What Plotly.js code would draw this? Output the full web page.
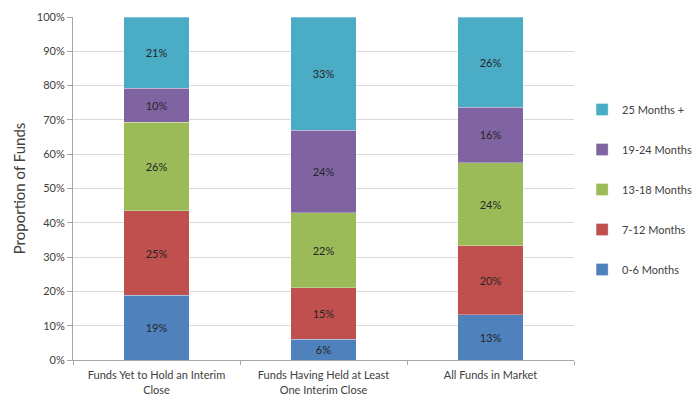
<!DOCTYPE html>
<html>
<head>
<meta charset="utf-8">
<script src="https://cdn.plot.ly/plotly-3.0.1.min.js"></script>
<style>
  html, body { margin: 0; padding: 0; background: #fff; }
  #chart { width: 693px; height: 394px; }
</style>
</head>
<body>
<div id="chart"></div>
<script>
// Fund categories (x axis)
const categories = [
  "Funds Yet to Hold an Interim<br>Close",
  "Funds Having Held at Least<br>One Interim Close",
  "All Funds in Market"
];

// Share of funds (%) by time in market
const months0to6   = [19, 6, 13];
const months7to12  = [25, 15, 20];
const months13to18 = [26, 22, 24];
const months19to24 = [10, 24, 16];
const months25plus = [21, 33, 26];

const seriesNames  = ["0-6 Months", "7-12 Months", "13-18 Months", "19-24 Months", "25 Months +"];
const seriesValues = [months0to6, months7to12, months13to18, months19to24, months25plus];
const seriesColors = ["#4F81BD", "#C0504D", "#9BBB59", "#8064A2", "#4BACC6"];

const yTickVals = [0, 10, 20, 30, 40, 50, 60, 70, 80, 90, 100];
const yTickText = yTickVals.map(v => v + "%");

const FONT = "Lato, 'Open Sans', 'DejaVu Sans', sans-serif";

const traces = seriesNames.map((name, i) => ({
  type: "bar",
  name: name,
  x: categories,
  y: seriesValues[i],
  legendgroup: name,
  legendrank: 100 - i,
  marker: { color: seriesColors[i], line: { color: "rgba(255,255,255,0.6)", width: 0.5 } },
  text: seriesValues[i].map(v => v + "%"),
  textposition: "inside",
  insidetextanchor: "middle",
  textangle: 0,
  textfont: { family: FONT, size: 11, color: "#262626" },
  hoverinfo: "name+y"
}));

const layout = {
  width: 693,
  height: 394,
  margin: { l: 73, r: 119, t: 17, b: 34 },
  paper_bgcolor: "#ffffff",
  plot_bgcolor: "#ffffff",
  barmode: "stack",
  barnorm: "percent",
  bargap: 0.61,
  font: { family: FONT, size: 11, color: "#404040" },
  uniformtext: { mode: "show", minsize: 10 },
  xaxis: {
    showgrid: false,
    showline: true,
    linecolor: "#a6a6a6",
    linewidth: 1,
    ticks: "outside",
    tickson: "boundaries",
    ticklen: 4,
    tickcolor: "#a6a6a6",
    tickangle: 0,
    ticklabelstandoff: 5,
    automargin: false,
    tickfont: { family: FONT, size: 11, color: "#404040" },
    fixedrange: true
  },
  yaxis: {
    range: [0, 100],
    tickvals: yTickVals,
    ticktext: yTickText,
    showgrid: true,
    gridcolor: "#d9d9d9",
    gridwidth: 1,
    showline: true,
    linecolor: "#a6a6a6",
    linewidth: 1,
    ticks: "outside",
    ticklen: 5,
    tickcolor: "#a6a6a6",
    zeroline: false,
    automargin: false,
    tickfont: { family: FONT, size: 11, color: "#404040" },
    title: { text: "Proportion of Funds", font: { family: FONT, size: 15, color: "#404040" }, standoff: 7 },
    fixedrange: true
  },
  legend: {
    xref: "container",
    yref: "container",
    x: 0.84,
    xanchor: "left",
    y: 1 - 95 / 394,
    yanchor: "top",
    traceorder: "grouped",
    tracegroupgap: 21,
    font: { family: FONT, size: 11, color: "#404040" },
    itemwidth: 30,
    bgcolor: "rgba(0,0,0,0)"
  },
  showlegend: true
};

Plotly.newPlot("chart", traces, layout, { displayModeBar: false, staticPlot: true });
</script>
</body>
</html>
